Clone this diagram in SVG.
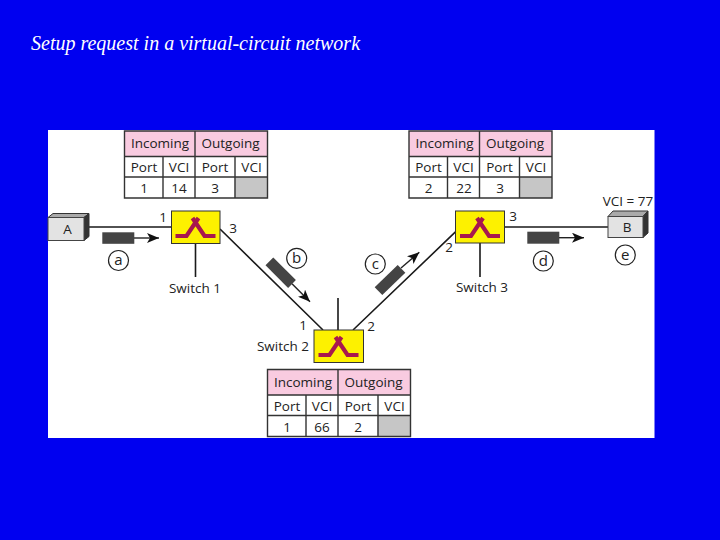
<svg xmlns="http://www.w3.org/2000/svg" width="720" height="540" viewBox="0 0 720 540">
<style>
text{font-family:"Open Sans","Liberation Sans",sans-serif;fill:#222;font-size:13.5px;text-anchor:middle}
.title{font-family:"Liberation Serif",serif;font-style:italic;font-size:20px;fill:#fff;text-anchor:start}
.ln{fill:none;stroke:#1a1a1a;stroke-width:1.6}
.tb{fill:none;stroke:#333;stroke-width:1.4}
.sw{fill:#fdf100;stroke:#333;stroke-width:1}
.gl{fill:none;stroke:#a8174e;stroke-width:4.2}
.pk{fill:#444}
.circ{fill:#fff;stroke:#222;stroke-width:1.2}
.lb{font-size:15px}
.arr{fill:none;stroke:#222;stroke-width:1.4;marker-end:url(#ah)}
</style>
<defs>
<marker id="ah" markerUnits="userSpaceOnUse" markerWidth="14" markerHeight="10" refX="12" refY="5" orient="auto"><path d="M0 0L12 5L0 10L3 5Z" fill="#111"/></marker>
<g id="glyph">
<path class="gl" d="M-20 9H-9L3 -9M20 9H9L-3 -9"/>
</g>
<g id="table">
<rect width="143" height="25.500" fill="#f9cbe0"/>
<rect y="25.500" width="143" height="41.500" fill="#fff"/>
<rect x="110" y="46" width="33" height="21" fill="#c6c6c6"/>
<path class="tb" d="M0 0H143V67H0ZM0 25.500H143M0 46H143M38.500 25.500V67M70.500 0V67M110.500 25.500V67"/>
<text x="35.500" y="17" font-size="14.500">Incoming</text>
<text x="106" y="17" font-size="14.500">Outgoing</text>
<text x="19.500" y="41">Port</text>
<text x="54.500" y="41">VCI</text>
<text x="90.500" y="41">Port</text>
<text x="127" y="41">VCI</text>
</g>
</defs>
<rect width="720" height="540" fill="#0000f0"/>
<text class="title" x="31" y="50">Setup request in a virtual-circuit network</text>
<rect x="48" y="130" width="606.500" height="308" fill="#fff"/>
<g id="connectors">
<path class="ln" d="M89 227H171.500M220 229L323 330M195.500 243.500V277M353 330L455.700 231.700M504.500 227H608M338 298V330M480 243V277"/>
<path class="arr" d="M134 238H159"/>
<path class="arr" d="M292 283.700L310 301.700"/>
<path class="arr" d="M401 268L419.300 252.300"/>
<path class="arr" d="M559 237.700H584"/>
</g>
<g id="packets">
<rect class="pk" x="102.300" y="232.300" width="32" height="11.500"/>
<rect class="pk" x="-16" y="-5.500" width="32" height="11" transform="translate(280.700 272.700) rotate(45)"/>
<rect class="pk" x="-16" y="-5.500" width="32" height="11" transform="translate(390 280) rotate(-44)"/>
<rect class="pk" x="527.300" y="231.700" width="32" height="12"/>
</g>
<g id="node-a">
<path d="M48 217.500L53 213.500H89L84 217.500Z" fill="#aaa" stroke="#333"/>
<path d="M84 217.500L89 213.500V236.500L84 240.500Z" fill="#333" stroke="#333"/>
<rect x="48" y="217.500" width="36" height="23" fill="#e3e3e3" stroke="#444"/>
<text x="67.500" y="234">A</text>
</g>
<g id="node-b">
<path d="M608 216.500L613 211H648L643 216.500Z" fill="#aaa" stroke="#333"/>
<path d="M643 216.500L648 211V233L643 237.500Z" fill="#333" stroke="#333"/>
<rect x="608" y="216.500" width="35" height="21" fill="#e3e3e3" stroke="#444"/>
<text x="627" y="232">B</text>
<text x="628" y="206">VCI = 77</text>
</g>
<g id="switch-1">
<rect class="sw" x="171.500" y="211" width="48.500" height="32.500"/>
<use href="#glyph" x="195.500" y="227"/>
<text x="163" y="222">1</text>
<text x="233" y="233">3</text>
<text x="195" y="293">Switch 1</text>
</g>
<g id="switch-2">
<rect class="sw" x="314" y="330" width="49.500" height="32.500"/>
<use href="#glyph" x="338.500" y="346"/>
<text x="303" y="330">1</text>
<text x="371" y="331">2</text>
<text x="283" y="351">Switch 2</text>
</g>
<g id="switch-3">
<rect class="sw" x="455.500" y="211" width="49" height="32"/>
<use href="#glyph" x="480" y="227"/>
<text x="449" y="252">2</text>
<text x="513" y="221">3</text>
<text x="482" y="292">Switch 3</text>
</g>
<g id="table-1">
<use href="#table" x="124.500" y="131"/>
<text x="144" y="193">1</text><text x="179" y="193">14</text><text x="215" y="193">3</text>
</g>
<g id="table-2">
<use href="#table" x="409" y="131"/>
<text x="428.500" y="193">2</text><text x="464" y="193">22</text><text x="500" y="193">3</text>
</g>
<g id="table-3">
<use href="#table" x="267.500" y="369.500"/>
<text x="287" y="431.500">1</text><text x="322" y="431.500">66</text><text x="358" y="431.500">2</text>
</g>
<g id="labels">
<circle class="circ" cx="118.500" cy="260.500" r="10"/><text class="lb" x="118.500" y="265">a</text>
<circle class="circ" cx="296.700" cy="258.300" r="10"/><text class="lb" x="296.700" y="263">b</text>
<circle class="circ" cx="375.300" cy="264" r="10"/><text class="lb" x="375.300" y="268.500">c</text>
<circle class="circ" cx="543.300" cy="261" r="10"/><text class="lb" x="543.300" y="266">d</text>
<circle class="circ" cx="625.300" cy="255" r="10"/><text class="lb" x="625.300" y="259.500">e</text>
</g>
</svg>
